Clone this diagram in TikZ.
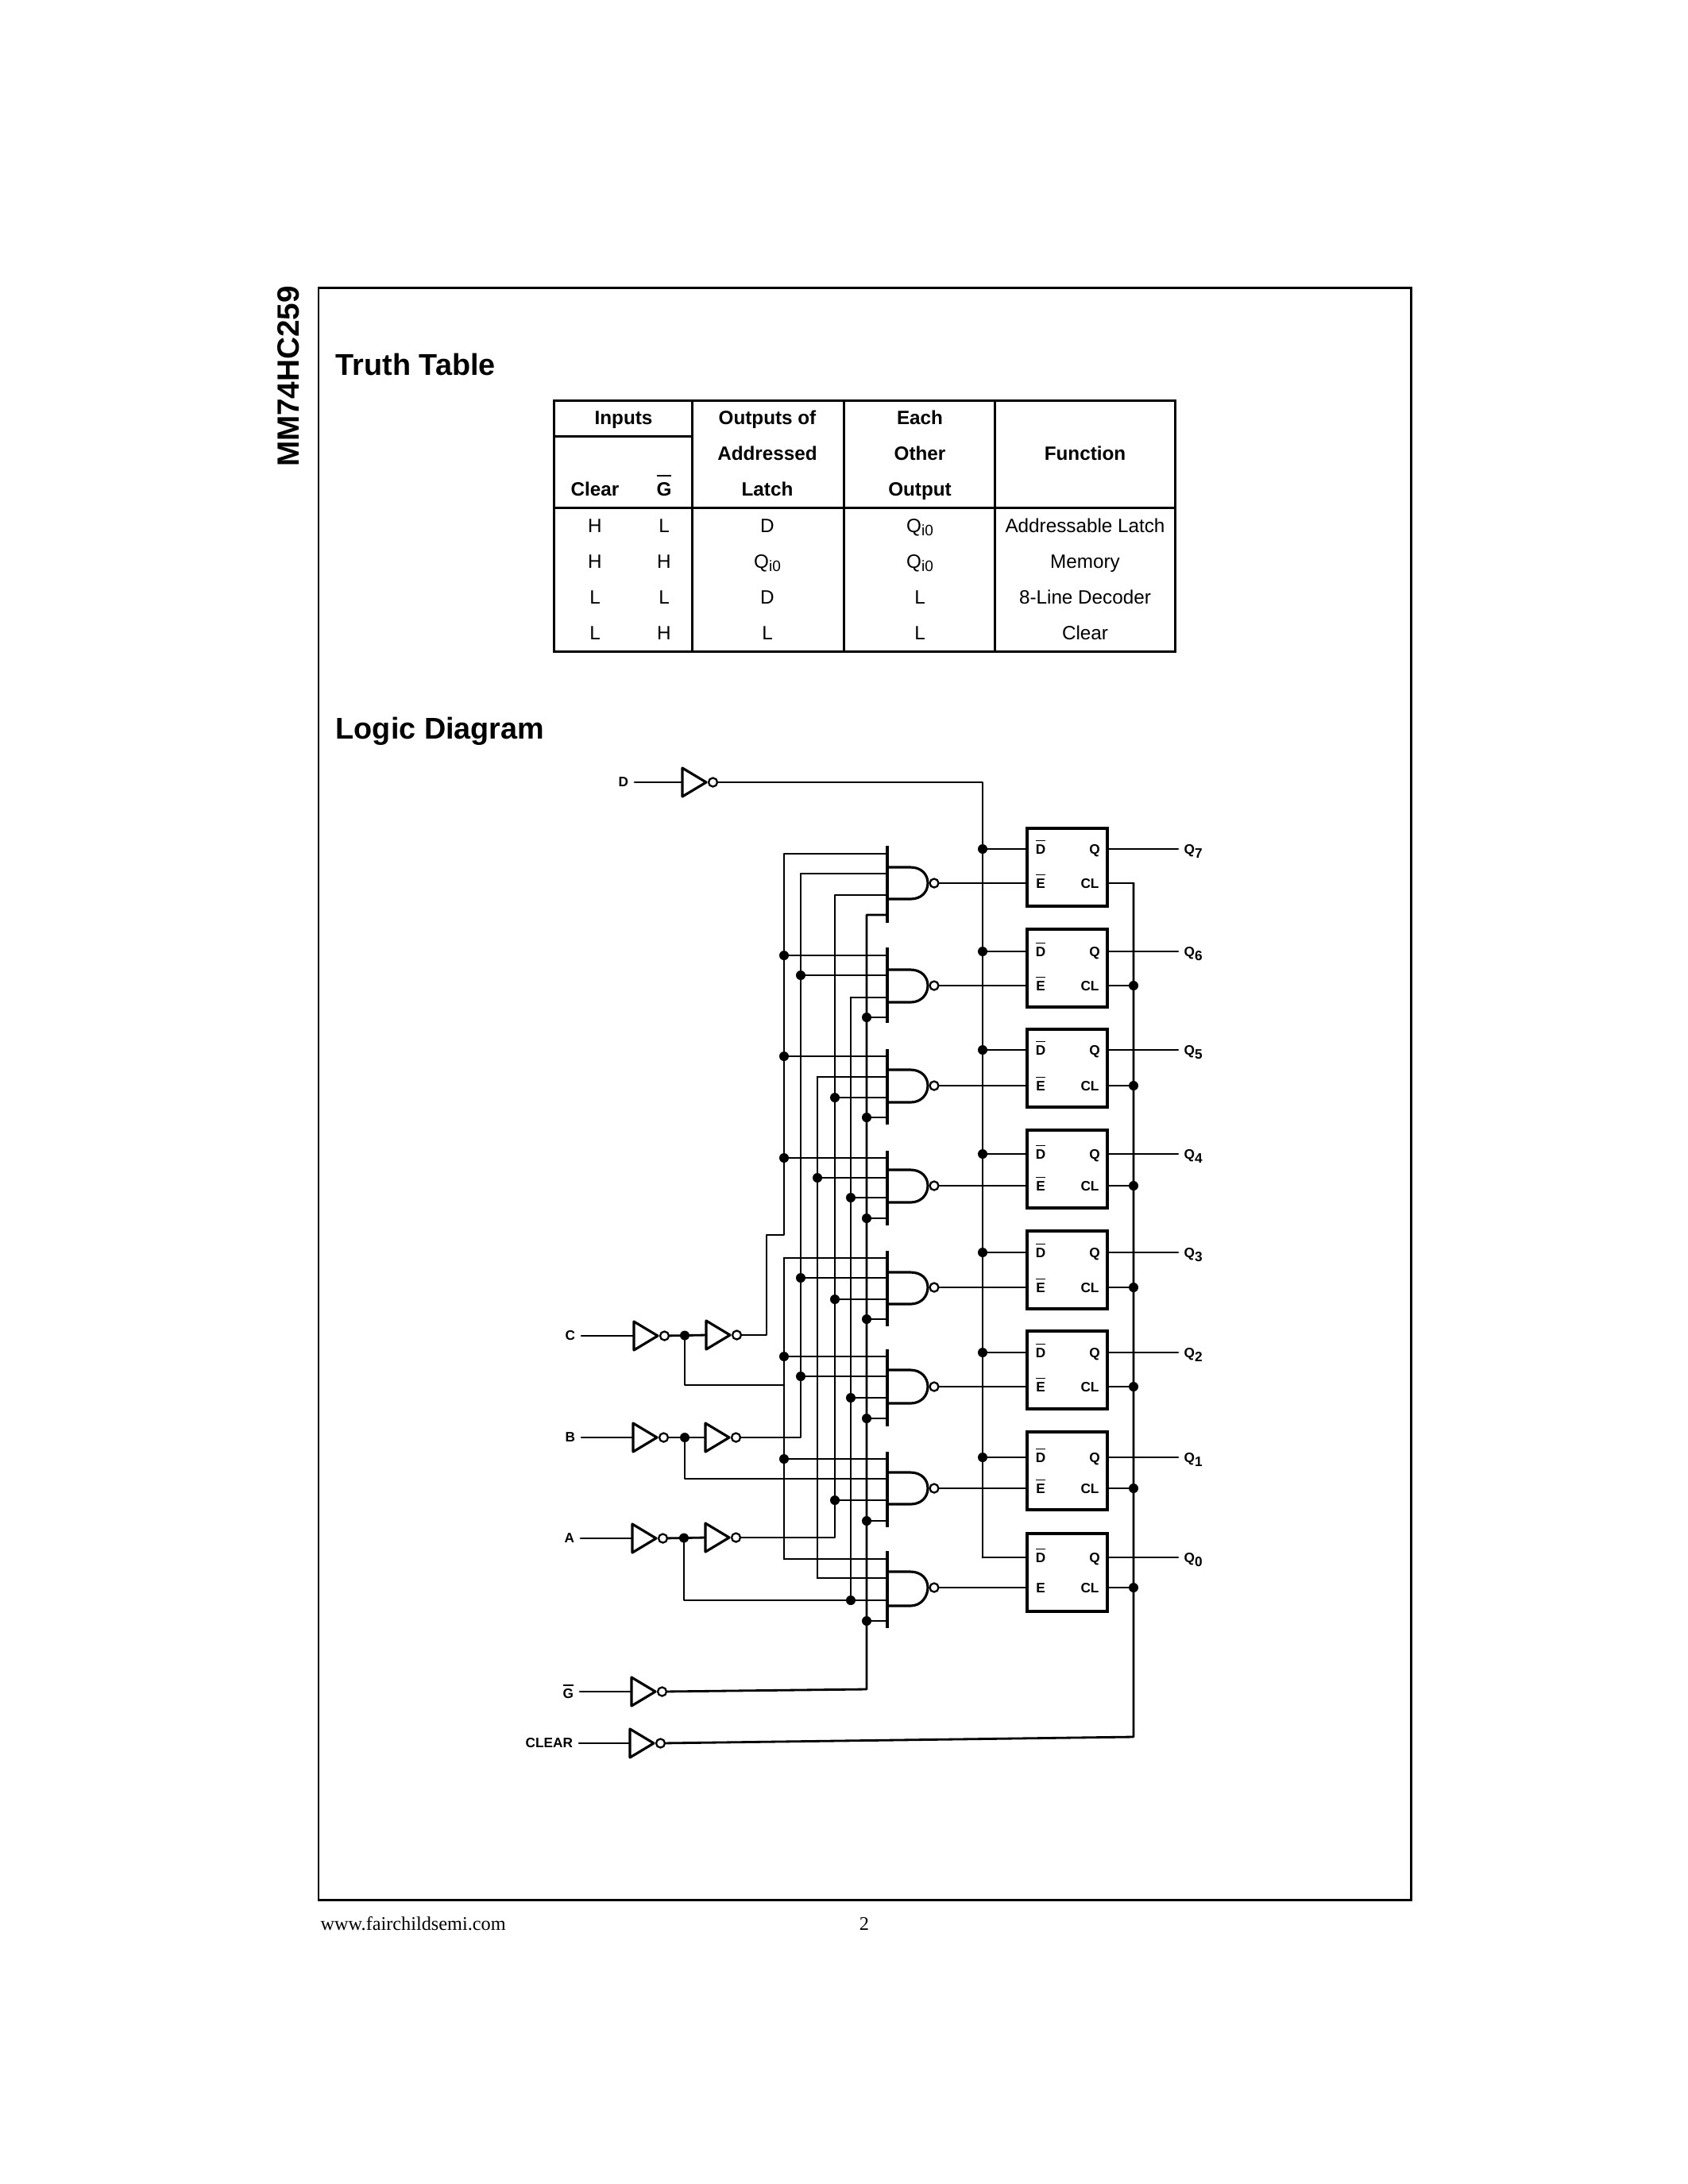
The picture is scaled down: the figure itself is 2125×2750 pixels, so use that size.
\documentclass[tikz,border=0pt]{standalone}
\usepackage{fontspec}
\setmainfont{Liberation Serif}
\setsansfont{Liberation Sans}
\newcommand{\barred}[2][1.1pt]{\leavevmode\vbox{\hrule height 0.5pt\kern #1\hbox{#2}}}
\newcommand{\qzero}{Q\raisebox{-1.4pt}{\fontsize{5.4}{6}\selectfont i0}}
\tikzset{
    wire/.style = {line width = 0.8pt, line cap = round, line join = round},
    gatebar/.style = {line width = 1pt},
    gatebody/.style = {line width = 0.9pt, line join = round},
    rule/.style = {line width = 0.85pt},
    bubble/.style = {circle, draw, fill = white, line width = 0.65pt, inner sep = 0pt, minimum size = 0.11cm},
    ffbox/.style = {draw, line width = 1pt, inner sep = 0pt, minimum width = 1.01cm, minimum height = 0.98cm},
    joint/.style = {fill = black},
    pinfont/.style = {font = \sffamily\bfseries\fontsize{4.9}{5.5}\selectfont, inner sep = 0pt},
    pinlabel/.style = {pinfont, anchor = base, yshift = -0.06cm},
    siglabel/.style = {pinfont, anchor = east, outer sep = 0.08cm},
    qlabel/.style = {pinfont, anchor = base west, yshift = -0.06cm},
    headcell/.style = {font = \sffamily\bfseries\fontsize{6.9}{8}\selectfont, inner sep = 0pt, anchor = base, yshift = -0.08cm},
    bodycell/.style = {font = \sffamily\fontsize{6.9}{8}\selectfont, inner sep = 0pt, anchor = base, yshift = -0.08cm},
    pagetitle/.style = {font = \sffamily\bfseries\fontsize{10.75}{12}\selectfont, inner sep = 0pt},
    footer/.style = {font = \rmfamily\fontsize{6.9}{8}\selectfont, inner sep = 0pt}
}
\begin{document}
\begin{tikzpicture}[x = 0.01cm, y = -0.01cm]
    \useasboundingbox (0,0) rectangle (2125,2750);
    % page
    \draw[rule] (401,362) rectangle (1776,2392);
    \node[pagetitle, rotate = 90, font = \sffamily\bfseries\fontsize{11}{12}\selectfont] (partno) at (363,474) {MM74HC259};
    \node[pagetitle, anchor = west] (truthtitle) at (422,459) {Truth Table};
    \node[pagetitle, anchor = west] (logictitle) at (422,921) {Logic Diagram};
    \node[footer, anchor = west] (website) at (403,2422) {www.fairchildsemi.com};
    \node[footer] (pageno) at (1088,2422) {2};
    % truth table
    \draw[rule] (697,504) rectangle (1479,820);
    \draw[rule] (697,549) -- (871,549);
    \draw[rule] (697,639) -- (1479,639);
    \foreach \tcol in {871,1062,1252} {
        \draw[rule] (\tcol,504) -- (\tcol,820);
    }
    \foreach \tx/\ty/\ttxt [count = \ti] in {
        785/526/Inputs, 749/616/Clear, 836/616/{\barred[2pt]{G}},
        966/526/Outputs of, 966/571/Addressed, 966/616/Latch,
        1158/526/Each, 1158/571/Other, 1158/616/Output, 1366/571/Function} {
        \node[headcell] (thead\ti) at (\tx,\ty) {\ttxt};
    }
    \foreach \tx/\ty/\ttxt [count = \ti] in {
        749/662/H, 836/662/L, 966/662/D, 1158/662/\qzero, 1366/662/Addressable Latch,
        749/707/H, 836/707/H, 966/707/\qzero, 1158/707/\qzero, 1366/707/Memory,
        749/752/L, 836/752/L, 966/752/D, 1158/752/L, 1366/752/8-Line Decoder,
        749/797/L, 836/797/H, 966/797/L, 1158/797/L, 1366/797/Clear} {
        \node[bodycell] (tbody\ti) at (\tx,\ty) {\ttxt};
    }
    % rails of the decoder
    \coordinate (ra) at (987,0);
    \coordinate (rb) at (1008,0);
    \coordinate (rc) at (1029,0);
    \coordinate (rd) at (1051,0);
    \coordinate (re) at (1071,0);
    \coordinate (rf) at (1091,0);
    % nand gates
    \foreach \n/\gtop/\gbot/\pa/\pb/\pc/\pd/\btop/\bbot/\gout in {
        7/1065/1162/1075/1100/1127/1152/1092/1132/1112,
        6/1193/1288/1203/1228/1256/1281/1221/1262/1241,
        5/1321/1416/1330/1356/1382/1407/1347/1388/1367,
        4/1449/1543/1458/1483/1508/1534/1473/1514/1493,
        3/1575/1670/1584/1609/1636/1661/1602/1642/1621,
        2/1699/1796/1708/1733/1760/1786/1725/1767/1746,
        1/1828/1923/1837/1862/1889/1915/1854/1894/1874,
        0/1953/2050/1963/1987/2015/2041/1979/2022/1999} {
        \draw[gatebar] (1117,\gtop) -- (1117,\gbot);
        \draw[gatebody] (1117,\btop) -- (1146,\btop) .. controls (1160,\btop) and (1168,\gout-11) .. (1168,\gout)
            .. controls (1168,\gout+11) and (1160,\bbot) .. (1146,\bbot) -- (1117,\bbot);
        \node[bubble] (nand\n) at (1176,\gout) {};
        \coordinate (in\n a) at (1117,\pa);
        \coordinate (in\n b) at (1117,\pb);
        \coordinate (in\n c) at (1117,\pc);
        \coordinate (in\n d) at (1117,\pd);
    }
    % latches
    \foreach \n/\fcy/\dy/\ey/\etxt in {
        7/1092/1069/1112/{\barred{E}},
        6/1219/1198/1241/{\barred{E}},
        5/1345/1322/1367/{\barred{E}},
        4/1472/1453/1493/{\barred{E}},
        3/1599/1577/1621/{\barred{E}},
        2/1725/1703/1746/{\barred{E}},
        1/1852/1835/1874/{\barred{E}},
        0/1980/1961/1999/E} {
        \node[ffbox] (latch\n) at (1343.5,\fcy) {};
        \node[pinlabel] (ld\n) at (1310,\dy) {\barred{D}};
        \node[pinlabel] (le\n) at (1310,\ey) {\etxt};
        \node[pinlabel] (lq\n) at (1378,\dy) {Q};
        \node[pinlabel] (lcl\n) at (1372,\ey) {CL};
        \node[qlabel] (qname\n) at (1490,\dy) {Q\raisebox{-1.6pt}{\n}};
        \coordinate (dpin\n) at (1293,\dy);
        \coordinate (epin\n) at (1293,\ey);
        \coordinate (qpin\n) at (1394,\dy);
        \coordinate (clpin\n) at (1394,\ey);
        \coordinate (dtap\n) at (1237,\dy);
        \coordinate (cltap\n) at (1427,\ey);
        \coordinate (qend\n) at (1483,\dy);
        \draw[wire] (nand\n) -- (epin\n);
        \draw[wire] (qpin\n) -- (qend\n);
        \draw[wire] (cltap\n) -- (clpin\n);
        \draw[wire] (dtap\n) -- (dpin\n);
    }
    % inverters
    \foreach \name/\xb/\iy in {
        dinv/859/985, cinva/798/1682, cinvb/889/1681, binva/797/1810, binvb/888/1810,
        ainva/796/1937, ainvb/888/1936, ginv/795/2130, clrinv/793/2195} {
        \draw[gatebody] (\xb,\iy-18) -- (\xb+30,\iy) -- (\xb,\iy+18) -- cycle;
        \node[bubble] (\name) at (\xb+38.5,\iy) {};
        \coordinate (\name-in) at (\xb,\iy);
    }
    \node[siglabel] (dname) at (799,985) {D};
    \node[siglabel] (cname) at (732,1682) {C};
    \node[siglabel] (bname) at (732,1810) {B};
    \node[siglabel] (aname) at (731,1937) {A};
    \node[siglabel] (gname) at (730,2130) {\barred[1pt]{G}};
    \node[siglabel] (clrname) at (729,2195) {CLEAR};
    \foreach \sig/\stage in {dname/dinv, cname/cinva, bname/binva, aname/ainva, gname/ginv, clrname/clrinv} {
        \draw[wire] (\sig.east) -- (\stage-in);
    }
    % address lines
    \coordinate (cnode) at (862,1681.5);
    \coordinate (bnode) at (862,1810);
    \coordinate (anode) at (861,1936.5);
    \coordinate (cdrop) at (862,1744);
    \coordinate (cjog) at (965,1555);
    \coordinate (grail) at (1091,2127);
    \coordinate (clrcorner) at (1427,2187);
    \draw[wire] (cinva) -- (cinvb-in);
    \draw[wire] (binva) -- (binvb-in);
    \draw[wire] (ainva) -- (ainvb-in);
    \draw[wire] (cnode) -- (cdrop) -- (ra |- cdrop);
    \draw[wire] (bnode) |- (in1b);
    \draw[wire] (anode) |- (in0c);
    \draw[wire] (cinvb) -| (cjog) -- (ra |- cjog) -- (ra |- in7a) -- (in7a);
    \draw[wire] (ra |- in3a) -- (ra |- in0a);
    \draw[wire] (binvb) -| (rb |- in7b) -- (in7b);
    \draw[wire] (ainvb) -| (rd |- in7c) -- (in7c);
    \draw[wire] (rc |- in5b) -- (rc |- in0b);
    \draw[wire] (re |- in6c) -- (re |- in0c);
    \draw[wire] (ginv) -- (grail) -- (rf |- in7d) -- (in7d);
    \foreach \g/\r in {
        6a/ra, 6b/rb, 6c/re, 6d/rf, 5a/ra, 5b/rc, 5c/rd, 5d/rf,
        4a/ra, 4b/rc, 4c/re, 4d/rf, 3a/ra, 3b/rb, 3c/rd, 3d/rf,
        2a/ra, 2b/rb, 2c/re, 2d/rf, 1a/ra, 1c/rd, 1d/rf,
        0a/ra, 0b/rc, 0c/re, 0d/rf} {
        \draw[wire] (\r |- in\g) -- (in\g);
    }
    \foreach \g/\r in {
        6a/ra, 6b/rb, 6d/rf, 5a/ra, 5c/rd, 5d/rf,
        4a/ra, 4b/rc, 4c/re, 4d/rf, 3b/rb, 3c/rd, 3d/rf,
        2a/ra, 2b/rb, 2c/re, 2d/rf, 1a/ra, 1c/rd, 1d/rf,
        0c/re, 0d/rf} {
        \fill[joint] (\r |- in\g) circle[radius = 6];
    }
    \foreach \jt in {cnode, bnode, anode} {
        \fill[joint] (\jt) circle[radius = 6];
    }
    % data and clear buses
    \draw[wire] (dinv) -| (dtap0);
    \draw[wire] (clrinv) -- (clrcorner) -- (cltap7);
    \foreach \n in {7,6,5,4,3,2,1} {
        \fill[joint] (dtap\n) circle[radius = 6];
    }
    \foreach \n in {6,5,4,3,2,1,0} {
        \fill[joint] (cltap\n) circle[radius = 6];
    }
\end{tikzpicture}
\end{document}
